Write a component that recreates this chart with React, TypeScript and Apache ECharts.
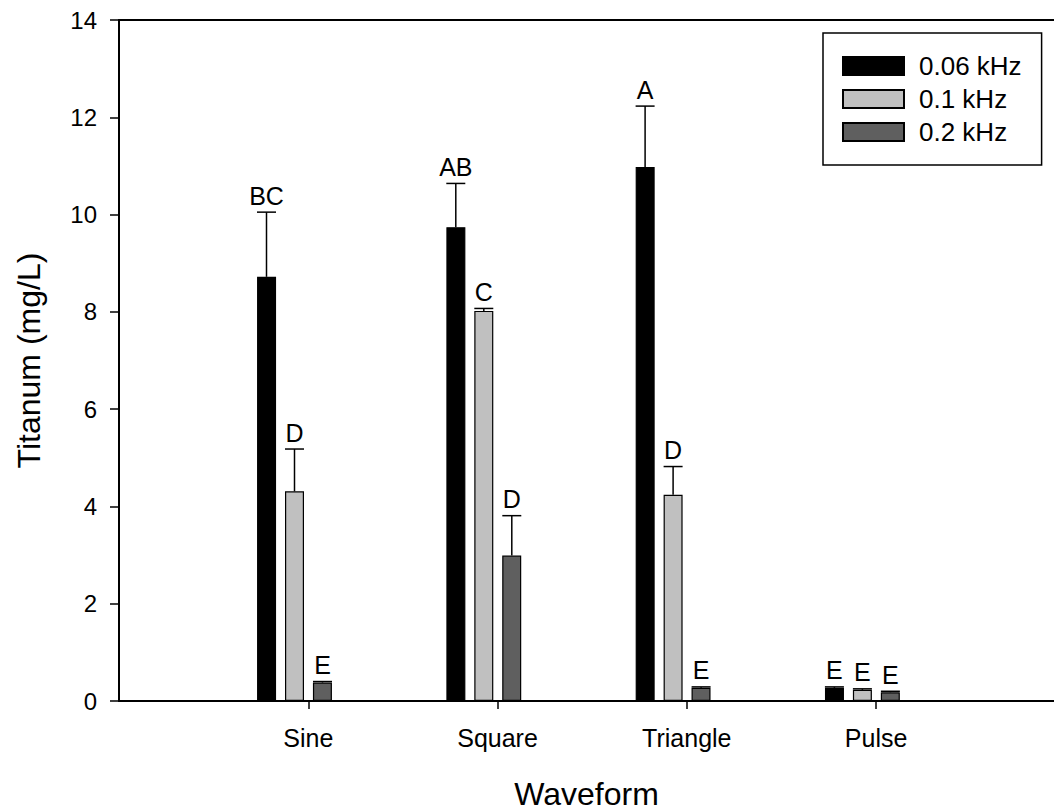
import React, { useEffect, useRef } from "react";
import * as echarts from "echarts";

const categories = ["Sine", "Square", "Triangle", "Pulse"];
const seriesNames = ["0.06 kHz", "0.1 kHz", "0.2 kHz"];
const means006 = [8.72, 9.74, 10.98, 0.27];
const errs006 = [1.33, 0.9, 1.25, 0.02];
const letters006 = ["BC", "AB", "A", "E"];
const means01 = [4.31, 8.02, 4.24, 0.23];
const errs01 = [0.87, 0.05, 0.58, 0.02];
const letters01 = ["D", "C", "D", "E"];
const means02 = [0.38, 2.99, 0.27, 0.18];
const errs02 = [0.02, 0.82, 0.02, 0.02];
const letters02 = ["E", "D", "E", "E"];
const yTicks = [0, 2, 4, 6, 8, 10, 12, 14];

const FONT = '"Liberation Sans", Arial, sans-serif';
const COLORS = ["#000000", "#c0c0c0", "#5f5f5f"];
const BAR_W = 19;
const BAR_STEP = 28;

export default function App() {
  const ref = useRef<HTMLDivElement>(null);
  useEffect(() => {
    document.body.style.margin = "0";
    const chart = echarts.init(ref.current!, null, { renderer: "svg" });
    const means = [means006, means01, means02];
    const errs = [errs006, errs01, errs02];
    const letters = [letters006, letters01, letters02];

    const barSeries = seriesNames.map((name, i) => ({
      name,
      type: "bar",
      xAxisIndex: 0,
      yAxisIndex: 0,
      data: means[i],
      barWidth: BAR_W,
      barGap: "47%",
      itemStyle: { color: COLORS[i], borderColor: "#000", borderWidth: 1.2 },
      z: 2,
    }));

    const errSeries = seriesNames.map((name, i) => ({
      name: "err" + i,
      type: "custom",
      xAxisIndex: 0,
      yAxisIndex: 0,
      z: 3,
      data: means[i].map((m, k) => [k, m, errs[i][k]]),
      renderItem: (params: any, api: any) => {
        const c = api.value(0);
        const m = api.value(1);
        const e = api.value(2);
        const base = api.coord([c, m]);
        const top = api.coord([c, m + e]);
        const x = base[0] + (i - 1) * BAR_STEP;
        return {
          type: "group",
          children: [
            { type: "line", shape: { x1: x, y1: base[1], x2: x, y2: top[1] }, style: { stroke: "#000", lineWidth: 1.5 } },
            { type: "line", shape: { x1: x - BAR_W / 2, y1: top[1], x2: x + BAR_W / 2, y2: top[1] }, style: { stroke: "#000", lineWidth: 1.5 } },
            {
              type: "text",
              x,
              y: top[1] - 4,
              style: {
                text: letters[i][params.dataIndex],
                fill: "#000",
                font: "25px " + FONT,
                textAlign: "center",
                textVerticalAlign: "bottom",
              },
            },
          ],
        };
      },
    }));

    const option: any = {
      animation: false,
      backgroundColor: "#fff",
      textStyle: { fontFamily: FONT },
      legend: {
        data: seriesNames,
        orient: "vertical",
        left: 823,
        top: 33,
        itemWidth: 61,
        itemHeight: 18,
        itemGap: 7,
        padding: [20, 20, 20, 19],
        borderColor: "#000",
        borderWidth: 1.5,
        icon: "rect",
        textStyle: { fontSize: 26, color: "#000", fontFamily: FONT, padding: [0, 0, 0, 10] },
      },
      grid: [
        { left: 199.85, width: 757.2, top: 20, bottom: 110, outerBoundsMode: "none", containLabel: false },
        { left: 119, right: 0, top: 20, bottom: 110, outerBoundsMode: "none", containLabel: false },
      ],
      xAxis: [
        { type: "category", gridIndex: 0, data: categories, show: false },
        {
          type: "value",
          gridIndex: 1,
          min: 0,
          max: 4.94,
          interval: 1,
          position: "bottom",
          name: "Waveform",
          nameLocation: "middle",
          nameGap: 77,
          nameTextStyle: { fontSize: 32, color: "#000", fontFamily: FONT },
          axisLine: { show: true, onZero: false, lineStyle: { color: "#000", width: 2 } },
          axisTick: { show: true, length: 8, customValues: [1, 2, 3, 4], lineStyle: { color: "#000", width: 1.5 } },
          axisLabel: {
            show: true,
            customValues: [1, 2, 3, 4],
            margin: 24,
            fontSize: 25,
            color: "#000",
            fontFamily: FONT,
            formatter: (v: number) => categories[Math.round(v) - 1] ?? "",
          },
          splitLine: { show: false },
        },
        {
          type: "value",
          gridIndex: 1,
          min: 0,
          max: 4.94,
          position: "top",
          axisLine: { show: true, onZero: false, lineStyle: { color: "#000", width: 2 } },
          axisTick: { show: false },
          axisLabel: { show: false },
          splitLine: { show: false },
        },
      ],
      yAxis: [
        { type: "value", gridIndex: 0, min: 0, max: 14, show: false },
        {
          type: "value",
          gridIndex: 1,
          min: yTicks[0],
          max: yTicks[yTicks.length - 1],
          interval: 2,
          name: "Titanum (mg/L)",
          nameLocation: "middle",
          nameGap: 74,
          nameTextStyle: { fontSize: 32, color: "#000", fontFamily: FONT },
          axisLine: { show: true, onZero: false, lineStyle: { color: "#000", width: 2 } },
          axisTick: { show: true, length: 9, lineStyle: { color: "#000", width: 1.5 } },
          axisLabel: { margin: 22, fontSize: 24, color: "#000", fontFamily: FONT },
          splitLine: { show: false },
        },
      ],
      series: [...barSeries, ...errSeries],
    };
    chart.setOption(option);
    return () => chart.dispose();
  }, []);
  return <div ref={ref} style={{ width: 1054, height: 811 }} />;
}
